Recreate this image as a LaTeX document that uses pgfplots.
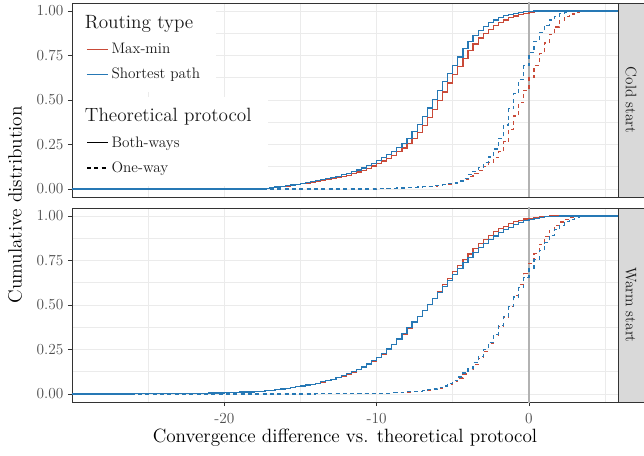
\documentclass[border=0pt]{standalone}
\usepackage{pgfplots}
\pgfplotsset{compat=1.18}
\usetikzlibrary{calc}

\definecolor{maxmin}{HTML}{C94A38}
\definecolor{shortest}{HTML}{2678B5}
\definecolor{gray10}{HTML}{1A1A1A}
\definecolor{gray20}{HTML}{333333}
\definecolor{gray30}{HTML}{4D4D4D}
\definecolor{gray92}{HTML}{EBEBEB}
\definecolor{stripgray}{HTML}{D9D9D9}

\newcommand\ttl{\fontsize{14.4}{17}\selectfont}
\newcommand\ent{\fontsize{11.4}{13.5}\selectfont}
\newcommand\tck{\fontsize{11.5}{13.5}\selectfont}

\pgfplotsset{
  facet/.style={
    scale only axis, width=409.5pt, height=145.5pt,
    xmin=-30, xmax=5.85, ymin=-0.045, ymax=1.045,
    xtick={-20,-10,0}, minor xtick={-25,-15,-5,5},
    ytick={0,0.25,0.5,0.75,1}, minor ytick={0.125,0.375,0.625,0.875},
    yticklabels={0.00,0.25,0.50,0.75,1.00},
    grid=both,
    major grid style={gray92, line width=0.7pt},
    minor grid style={gray92, line width=0.4pt},
    minor tick length=0pt, major tick length=3pt,
    tick align=outside, tick pos=left,
    tick style={gray20, line width=0.6pt},
    axis line style={gray20, line width=0.6pt},
    ticklabel style={font=\tck, text=gray30},
    xticklabel style={yshift=-2pt},
  },
  keys/.style={
    legend image code/.code={\draw[##1] (0pt,0pt) -- (16pt,0pt);},
    legend cell align=left,
    legend style={draw=none, fill=white, font=\ent, text=gray10,
      row sep=5.5pt, inner xsep=10pt, inner ysep=6.5pt,
      xshift=0.6pt, yshift=-0.6pt, anchor=north west},
  },
  mm/.style={maxmin, line width=0.9pt, const plot, forget plot},
  sp/.style={shortest, line width=0.9pt, const plot, forget plot},
  oneway/.style={dash pattern=on 3pt off 2.5pt},
  zeroline/.style={gray!60, line width=1pt, forget plot},
}

\begin{document}
\begin{tikzpicture}

% ---- Cold start ----
\begin{axis}[facet, keys, name=top, at={(0pt,0pt)}, anchor=north west,
  xticklabels={}, xtick style={draw=none},
  legend style={at={(0,1)}}]
\addplot[zeroline] coordinates {(0,-0.1) (0,1.1)};
% Max-min, both-ways
\addplot[mm] coordinates {
(-30,0) (-17.33,0.004) (-17,0.007) (-16.67,0.010) (-16.33,0.013) (-16,0.016)
(-15.67,0.020) (-15.33,0.024) (-15,0.029) (-14.67,0.033) (-14.33,0.037)
(-14,0.042) (-13.67,0.046) (-13.33,0.052) (-13,0.058) (-12.67,0.064)
(-12.33,0.071) (-12,0.078) (-11.67,0.086) (-11.33,0.095) (-11,0.105)
(-10.67,0.116) (-10.33,0.129) (-10,0.142) (-9.67,0.157) (-9.33,0.173)
(-9,0.190) (-8.67,0.209) (-8.33,0.230) (-8,0.255) (-7.67,0.283) (-7.33,0.318)
(-7,0.358) (-6.67,0.400) (-6.33,0.446) (-6,0.495) (-5.67,0.545) (-5.33,0.595)
(-5,0.642) (-4.67,0.688) (-4.33,0.733) (-4,0.776) (-3.67,0.815) (-3.33,0.848)
(-3,0.875) (-2.67,0.898) (-2.33,0.918) (-2,0.936) (-1.67,0.950) (-1.33,0.962)
(-1,0.972) (-0.67,0.980) (-0.33,0.987) (0,0.992) (0.33,0.996) (0.67,1) (6,1)};
% Max-min, one-way
\addplot[mm, oneway] coordinates {
(-30,0) (-10,0.001) (-9.67,0.002) (-9.33,0.003) (-9,0.004) (-8.67,0.005)
(-8.33,0.006) (-8,0.007) (-7.67,0.008) (-7.33,0.010) (-7,0.012) (-6.67,0.014)
(-6.33,0.017) (-6,0.020) (-5.67,0.024) (-5.33,0.028) (-5,0.033) (-4.67,0.042)
(-4.33,0.055) (-4,0.070) (-3.67,0.088) (-3.33,0.105) (-3,0.125) (-2.67,0.148)
(-2.33,0.175) (-2,0.210) (-1.67,0.265) (-1.33,0.335) (-1,0.410) (-0.67,0.485)
(-0.33,0.555) (0,0.625) (0.33,0.695) (0.67,0.760) (1,0.820) (1.33,0.870)
(1.67,0.910) (2,0.945) (2.33,0.968) (2.67,0.983) (3,0.992) (3.33,0.997)
(3.67,1) (6,1)};
% Shortest path, both-ways
\addplot[sp] coordinates {
(-30,0) (-17.33,0.004) (-17,0.008) (-16.67,0.011) (-16.33,0.014) (-16,0.018)
(-15.67,0.022) (-15.33,0.027) (-15,0.032) (-14.67,0.036) (-14.33,0.041)
(-14,0.046) (-13.67,0.052) (-13.33,0.058) (-13,0.064) (-12.67,0.072)
(-12.33,0.080) (-12,0.088) (-11.67,0.097) (-11.33,0.107) (-11,0.118)
(-10.67,0.131) (-10.33,0.145) (-10,0.160) (-9.67,0.178) (-9.33,0.195)
(-9,0.212) (-8.67,0.232) (-8.33,0.255) (-8,0.285) (-7.67,0.322) (-7.33,0.364)
(-7,0.408) (-6.67,0.455) (-6.33,0.505) (-6,0.553) (-5.67,0.603) (-5.33,0.650)
(-5,0.695) (-4.67,0.742) (-4.33,0.790) (-4,0.830) (-3.67,0.862) (-3.33,0.889)
(-3,0.914) (-2.67,0.934) (-2.33,0.950) (-2,0.963) (-1.67,0.974) (-1.33,0.982)
(-1,0.987) (-0.67,0.991) (-0.33,0.995) (0,0.998) (0.33,1) (6,1)};
% Shortest path, one-way
\addplot[sp, oneway] coordinates {
(-30,0) (-10,0.001) (-9.67,0.002) (-9.33,0.003) (-9,0.004) (-8.67,0.005)
(-8.33,0.006) (-8,0.007) (-7.67,0.009) (-7.33,0.011) (-7,0.013) (-6.67,0.015)
(-6.33,0.018) (-6,0.021) (-5.67,0.025) (-5.33,0.029) (-5,0.034) (-4.67,0.045)
(-4.33,0.060) (-4,0.080) (-3.67,0.100) (-3.33,0.122) (-3,0.148) (-2.67,0.180)
(-2.33,0.225) (-2,0.285) (-1.67,0.360) (-1.33,0.450) (-1,0.535) (-0.67,0.615)
(-0.33,0.695) (0,0.765) (0.33,0.830) (0.67,0.880) (1,0.920) (1.33,0.950)
(1.67,0.970) (2,0.984) (2.33,0.993) (2.67,0.998) (3,1) (6,1)};
\addlegendimage{empty legend}
\addlegendentry{\hspace*{-20pt}{\ttl Routing type}}
\addlegendimage{maxmin, line width=0.9pt}
\addlegendentry{Max-min}
\addlegendimage{shortest, line width=0.9pt}
\addlegendentry{Shortest path}
\end{axis}

% second legend (theoretical protocol) over the cold start panel
\begin{axis}[keys, scale only axis, width=409.5pt, height=145.5pt,
  at={(0pt,0pt)}, anchor=north west, hide axis,
  xmin=0, xmax=1, ymin=0, ymax=1,
  legend style={at={(0,0.52)}}]
\addlegendimage{empty legend}
\addlegendentry{\hspace*{-20pt}{\ttl Theoretical protocol}}
\addlegendimage{black, line width=0.9pt}
\addlegendentry{Both-ways}
\addlegendimage{black, line width=0.9pt, oneway}
\addlegendentry{One-way}
\end{axis}

% ---- Warm start ----
\begin{axis}[facet, name=bot, at={(0pt,-153.75pt)}, anchor=north west,
  xticklabels={-20,-10,0}]
\addplot[zeroline] coordinates {(0,-0.1) (0,1.1)};
% Max-min, both-ways
\addplot[mm] coordinates {
(-30,0) (-26,0.001) (-25,0.002) (-24,0.003) (-23,0.004) (-22,0.005) (-21,0.006)
(-20,0.008) (-19,0.011) (-18,0.015) (-17.33,0.019) (-17,0.021) (-16.67,0.024)
(-16.33,0.027) (-16,0.031) (-15.67,0.035) (-15.33,0.040) (-15,0.045)
(-14.67,0.049) (-14.33,0.054) (-14,0.060) (-13.67,0.067) (-13.33,0.074)
(-13,0.082) (-12.67,0.091) (-12.33,0.101) (-12,0.112) (-11.67,0.124)
(-11.33,0.137) (-11,0.150) (-10.67,0.166) (-10.33,0.184) (-10,0.203)
(-9.67,0.225) (-9.33,0.250) (-9,0.277) (-8.67,0.306) (-8.33,0.337)
(-8,0.369) (-7.67,0.402) (-7.33,0.435) (-7,0.468) (-6.67,0.502) (-6.33,0.538)
(-6,0.578) (-5.67,0.614) (-5.33,0.650) (-5,0.686) (-4.67,0.721) (-4.33,0.755)
(-4,0.787) (-3.67,0.817) (-3.33,0.845) (-3,0.870) (-2.67,0.892) (-2.33,0.911)
(-2,0.928) (-1.67,0.943) (-1.33,0.956) (-1,0.967) (-0.67,0.976) (-0.33,0.983)
(0,0.988) (0.33,0.992) (0.67,0.995) (1,0.998) (1.33,1) (6,1)};
% Max-min, one-way
\addplot[mm, oneway] coordinates {
(-30,0) (-14,0.001) (-13,0.002) (-12,0.003) (-11,0.004) (-10,0.005) (-9,0.007)
(-8.67,0.008) (-8.33,0.009) (-8,0.011) (-7.67,0.013) (-7.33,0.015) (-7,0.018)
(-6.67,0.022) (-6.33,0.027) (-6,0.033) (-5.67,0.042) (-5.33,0.055) (-5,0.070)
(-4.67,0.090) (-4.33,0.112) (-4,0.138) (-3.67,0.166) (-3.33,0.200) (-3,0.240)
(-2.67,0.282) (-2.33,0.328) (-2,0.380) (-1.67,0.432) (-1.33,0.492) (-1,0.555)
(-0.67,0.615) (-0.33,0.675) (0,0.735) (0.33,0.790) (0.67,0.840) (1,0.885)
(1.33,0.920) (1.67,0.947) (2,0.966) (2.33,0.980) (2.67,0.990) (3,0.996)
(3.33,1) (6,1)};
% Shortest path, both-ways
\addplot[sp] coordinates {
(-30,0) (-26,0.001) (-25,0.002) (-24,0.003) (-23,0.004) (-22,0.005) (-21,0.006)
(-20,0.008) (-19,0.011) (-18,0.015) (-17.33,0.019) (-17,0.021) (-16.67,0.024)
(-16.33,0.028) (-16,0.032) (-15.67,0.036) (-15.33,0.040) (-15,0.045)
(-14.67,0.050) (-14.33,0.055) (-14,0.061) (-13.67,0.068) (-13.33,0.075)
(-13,0.083) (-12.67,0.092) (-12.33,0.102) (-12,0.113) (-11.67,0.125)
(-11.33,0.138) (-11,0.152) (-10.67,0.168) (-10.33,0.186) (-10,0.206)
(-9.67,0.228) (-9.33,0.253) (-9,0.280) (-8.67,0.309) (-8.33,0.340)
(-8,0.372) (-7.67,0.404) (-7.33,0.437) (-7,0.470) (-6.67,0.503) (-6.33,0.537)
(-6,0.571) (-5.67,0.605) (-5.33,0.639) (-5,0.672) (-4.67,0.705) (-4.33,0.737)
(-4,0.767) (-3.67,0.795) (-3.33,0.822) (-3,0.846) (-2.67,0.868) (-2.33,0.888)
(-2,0.906) (-1.67,0.922) (-1.33,0.937) (-1,0.951) (-0.67,0.963) (-0.33,0.973)
(0,0.981) (0.33,0.987) (0.67,0.992) (1,0.995) (1.33,0.997) (1.67,0.999)
(2,1) (6,1)};
% Shortest path, one-way
\addplot[sp, oneway] coordinates {
(-30,0) (-14,0.001) (-13,0.002) (-12,0.003) (-11,0.004) (-10,0.005) (-9,0.007)
(-8.67,0.008) (-8.33,0.010) (-8,0.012) (-7.67,0.014) (-7.33,0.016) (-7,0.019)
(-6.67,0.023) (-6.33,0.028) (-6,0.035) (-5.67,0.045) (-5.33,0.058) (-5,0.075)
(-4.67,0.095) (-4.33,0.118) (-4,0.145) (-3.67,0.175) (-3.33,0.210) (-3,0.250)
(-2.67,0.290) (-2.33,0.335) (-2,0.385) (-1.67,0.435) (-1.33,0.490) (-1,0.545)
(-0.67,0.600) (-0.33,0.655) (0,0.705) (0.33,0.755) (0.67,0.805) (1,0.850)
(1.33,0.890) (1.67,0.922) (2,0.948) (2.33,0.967) (2.67,0.981) (3,0.990)
(3.33,0.996) (3.67,1) (6,1)};
\end{axis}

% facet strips
\foreach \ax/\lab in {top/Cold start, bot/Warm start}{
  \filldraw[fill=stripgray, draw=gray20, line width=0.6pt]
    (\ax.north east) rectangle ([xshift=19.5pt]\ax.south east);
  \node[rotate=-90, font=\ent, text=gray10]
    at ($(\ax.north east)!0.5!(\ax.south east)+(9.75pt,0)$) {\lab};
}

% axis titles
\node[rotate=90, font=\ttl, text=black] at (-42.75pt,-151.5pt) {Cumulative distribution};
\node[font=\ttl, text=black] at (204.75pt,-326.25pt) {Convergence difference vs. theoretical protocol};

\pgfresetboundingbox
\path (-54pt,2.25pt) rectangle (429pt,-339.75pt);
\end{tikzpicture}
\end{document}
